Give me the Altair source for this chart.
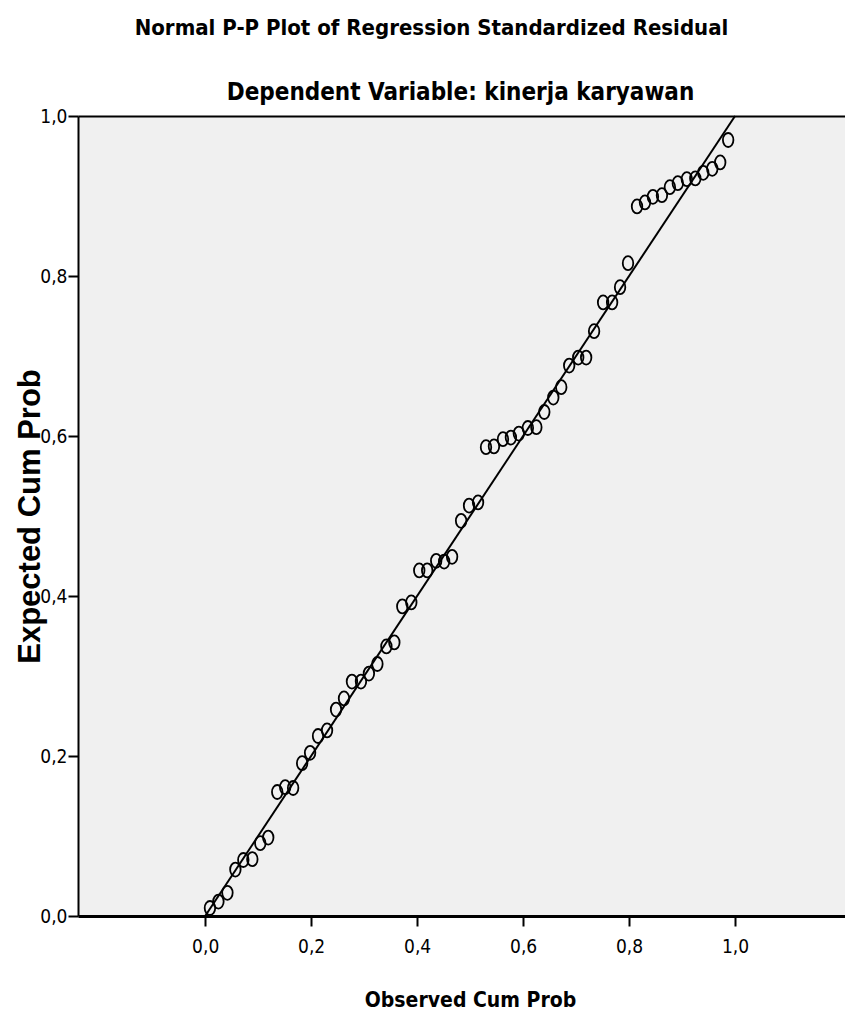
import altair as alt
import pandas as pd

TITLE = "Normal P-P Plot of Regression Standardized Residual"
SUBTITLE = "Dependent Variable: kinerja karyawan"
X_TITLE = "Observed Cum Prob"
Y_TITLE = "Expected Cum Prob"

observed = [0.009, 0.025, 0.042, 0.057, 0.072, 0.089, 0.104, 0.119, 0.136, 0.151,
            0.166, 0.183, 0.198, 0.213, 0.230, 0.247, 0.262, 0.277, 0.294, 0.309,
            0.325, 0.342, 0.357, 0.372, 0.389, 0.404, 0.419, 0.436, 0.451, 0.466,
            0.483, 0.498, 0.515, 0.530, 0.545, 0.562, 0.577, 0.592, 0.609, 0.625,
            0.640, 0.657, 0.672, 0.687, 0.704, 0.719, 0.734, 0.751, 0.768, 0.783,
            0.798, 0.815, 0.830, 0.845, 0.862, 0.877, 0.892, 0.909, 0.925, 0.940,
            0.957, 0.972, 0.987]
expected = [0.010, 0.018, 0.029, 0.058, 0.070, 0.071, 0.091, 0.098, 0.155, 0.161,
            0.160, 0.191, 0.204, 0.225, 0.232, 0.258, 0.272, 0.293, 0.293, 0.303,
            0.315, 0.337, 0.342, 0.387, 0.392, 0.432, 0.432, 0.444, 0.443, 0.449,
            0.494, 0.513, 0.517, 0.586, 0.587, 0.596, 0.598, 0.603, 0.610, 0.611,
            0.630, 0.648, 0.661, 0.688, 0.698, 0.698, 0.731, 0.767, 0.767, 0.786,
            0.816, 0.887, 0.892, 0.899, 0.901, 0.911, 0.916, 0.921, 0.922, 0.929,
            0.934, 0.942, 0.970]

ref_x = [0.0, 1.0]
ref_y = [0.0, 1.0]
tick_values = [0.0, 0.2, 0.4, 0.6, 0.8, 1.0]

NARROW = "Liberation Sans Narrow, Arial Narrow, DejaVu Sans Condensed, sans-serif"
WIDE = "Liberation Sans, Arial, sans-serif"
LABEL_EXPR = "replace(format(datum.value, '.1f'), '.', ',')"

pts = pd.DataFrame({"obs": observed, "exp": expected})
ref = pd.DataFrame({"obs": ref_x, "exp": ref_y})

W, H = 767, 800
x_scale = alt.Scale(domain=[-0.24, 1.2075], nice=False, zero=False)
y_scale = alt.Scale(domain=[0, 1], nice=False)

y_axis = alt.Axis(
    title=Y_TITLE, values=tick_values, labelExpr=LABEL_EXPR, grid=False,
    domainColor="black", domainWidth=2, tickColor="black", tickWidth=2, tickSize=10,
    labelPadding=1, labelFont=NARROW, labelFontSize=19, labelColor="black",
    titleFont=WIDE, titleFontSize=31, titleFontWeight="bold", titleColor="black",
    titleX=-48, titleY=H / 2, titleAngle=270, titleAlign="center", titleBaseline="middle",
)
x_axis_bottom = alt.Axis(
    title=X_TITLE, orient="bottom", values=tick_values, labelExpr=LABEL_EXPR, grid=False,
    domainColor="black", domainWidth=3, tickColor="black", tickWidth=2, tickSize=10,
    labelPadding=11, labelFont=NARROW, labelFontSize=19, labelColor="black",
    titleFont=NARROW, titleFontSize=21, titleFontWeight="bold", titleColor="black",
    titleX=392, titleY=84, titleAlign="center", titleBaseline="middle",
)
x_axis_top = alt.Axis(
    title=SUBTITLE, orient="top", labels=False, ticks=False, grid=False,
    domainColor="black", domainWidth=2,
    titleFont=NARROW, titleFontSize=24, titleFontWeight="bold", titleColor="black",
    titleX=382, titleY=-24, titleAlign="center", titleBaseline="middle",
)

line = alt.Chart(ref).mark_line(color="black", strokeWidth=2).encode(
    x=alt.X("obs:Q", scale=x_scale, axis=x_axis_top),
    y=alt.Y("exp:Q", scale=y_scale, axis=y_axis),
)

ELLIPSE = "M0,-1A0.75,1,0,1,1,0,1A0.75,1,0,1,1,0,-1Z"
points = alt.Chart(pts).mark_point(
    shape=ELLIPSE, size=196, filled=False, stroke="black", strokeWidth=1.8, opacity=1
).encode(
    x=alt.X("obs:Q", scale=x_scale, axis=x_axis_bottom),
    y=alt.Y("exp:Q", scale=y_scale, axis=y_axis),
)

chart = alt.layer(points, line).resolve_axis(x="independent").properties(
    width=W, height=H,
    autosize=alt.AutoSizeParams(type="none"),
    padding={"left": 70, "top": 108, "right": 0, "bottom": 99},
    title=alt.TitleParams(
        text=TITLE, anchor="middle", dx=-30, font=NARROW, fontSize=22,
        fontWeight="bold", color="black", offset=40,
    ),
).configure_view(fill="#F0F0F0", stroke=None)

chart.save("out.html", embed_options={"renderer": "svg", "actions": False})
